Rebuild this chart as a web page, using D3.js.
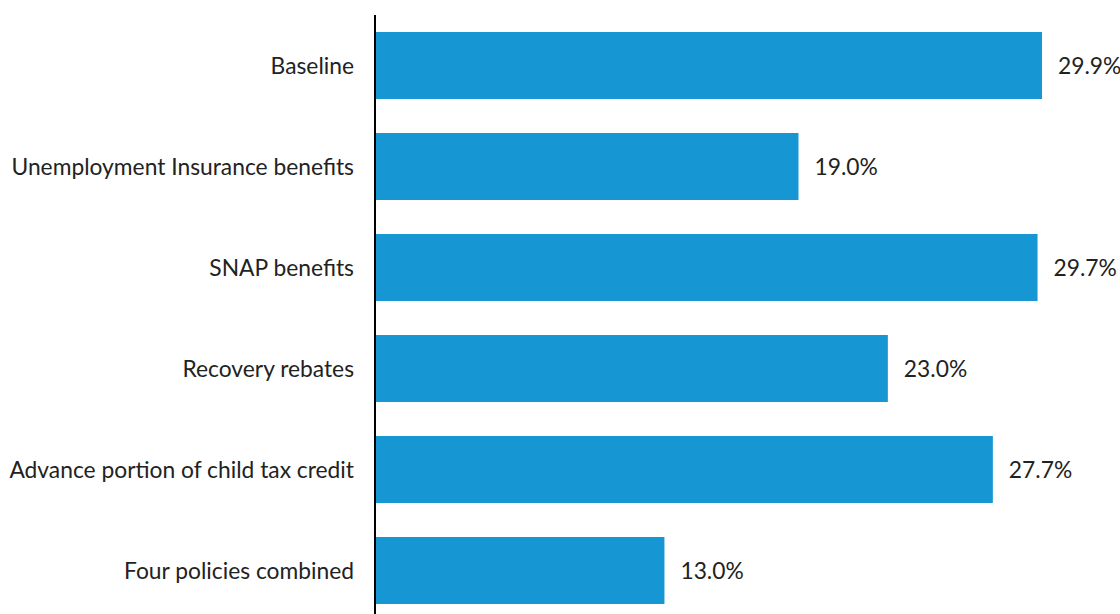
<!DOCTYPE html>
<html>
<head>
<meta charset="utf-8">
<script src="https://cdn.jsdelivr.net/npm/d3@7"></script>
<style>
    body { margin: 0; background: #fff; }
    svg text { font-family: Lato, "Open Sans", sans-serif; fill: #222; }
</style>
</head>
<body>
<div id="chart"></div>
<script>
// chart data
var categories = ['Baseline', 'Unemployment Insurance benefits', 'SNAP benefits',
    'Recovery rebates', 'Advance portion of child tax credit', 'Four policies combined'];
var values = [29.9, 19.0, 29.7, 23.0, 27.7, 13.0];

var width = 1120,
    height = 614,
    margin = {top: 15, left: 374};

var svg = d3.select('#chart').append('svg')
    .attr('width', width)
    .attr('height', height);

var xScale = d3.scaleLinear()
    .domain([0, 29.9])
    .range([margin.left, 1042]);

var yScale = d3.scaleBand()
    .domain(categories)
    .range([margin.top, margin.top + 6 * 101])
    .paddingInner(0.337)
    .paddingOuter(0.1685);

var rows = categories.map(function (c, i) {
    return {label: c, value: values[i]};
});

// bars
svg.append('g').selectAll('rect')
    .data(rows)
    .enter()
    .append('rect')
    .attr('x', xScale(0))
    .attr('y', function (d) { return yScale(d.label); })
    .attr('width', function (d) { return xScale(d.value) - xScale(0); })
    .attr('height', yScale.bandwidth())
    .attr('fill', '#1696d2');

// value labels
svg.append('g').selectAll('text')
    .data(rows)
    .enter()
    .append('text')
    .attr('x', function (d) { return xScale(d.value) + 16; })
    .attr('y', function (d) { return yScale(d.label) + yScale.bandwidth() / 2 + 1; })
    .attr('dy', '0.35em')
    .style('font-size', '22.8px')
    .text(function (d) { return d.value.toFixed(1) + '%'; });

// category axis
var yAxis = d3.axisLeft(yScale)
    .tickSize(0)
    .tickPadding(21);

var gY = svg.append('g')
    .attr('transform', 'translate(' + (margin.left + 1) + ',1)')
    .call(yAxis);

gY.select('.domain').remove();
gY.selectAll('text')
    .style('font-size', '22.8px');

svg.append('line')
    .attr('x1', margin.left + 1)
    .attr('x2', margin.left + 1)
    .attr('y1', margin.top)
    .attr('y2', height)
    .attr('stroke', '#000')
    .attr('stroke-width', 2);
</script>
</body>
</html>
